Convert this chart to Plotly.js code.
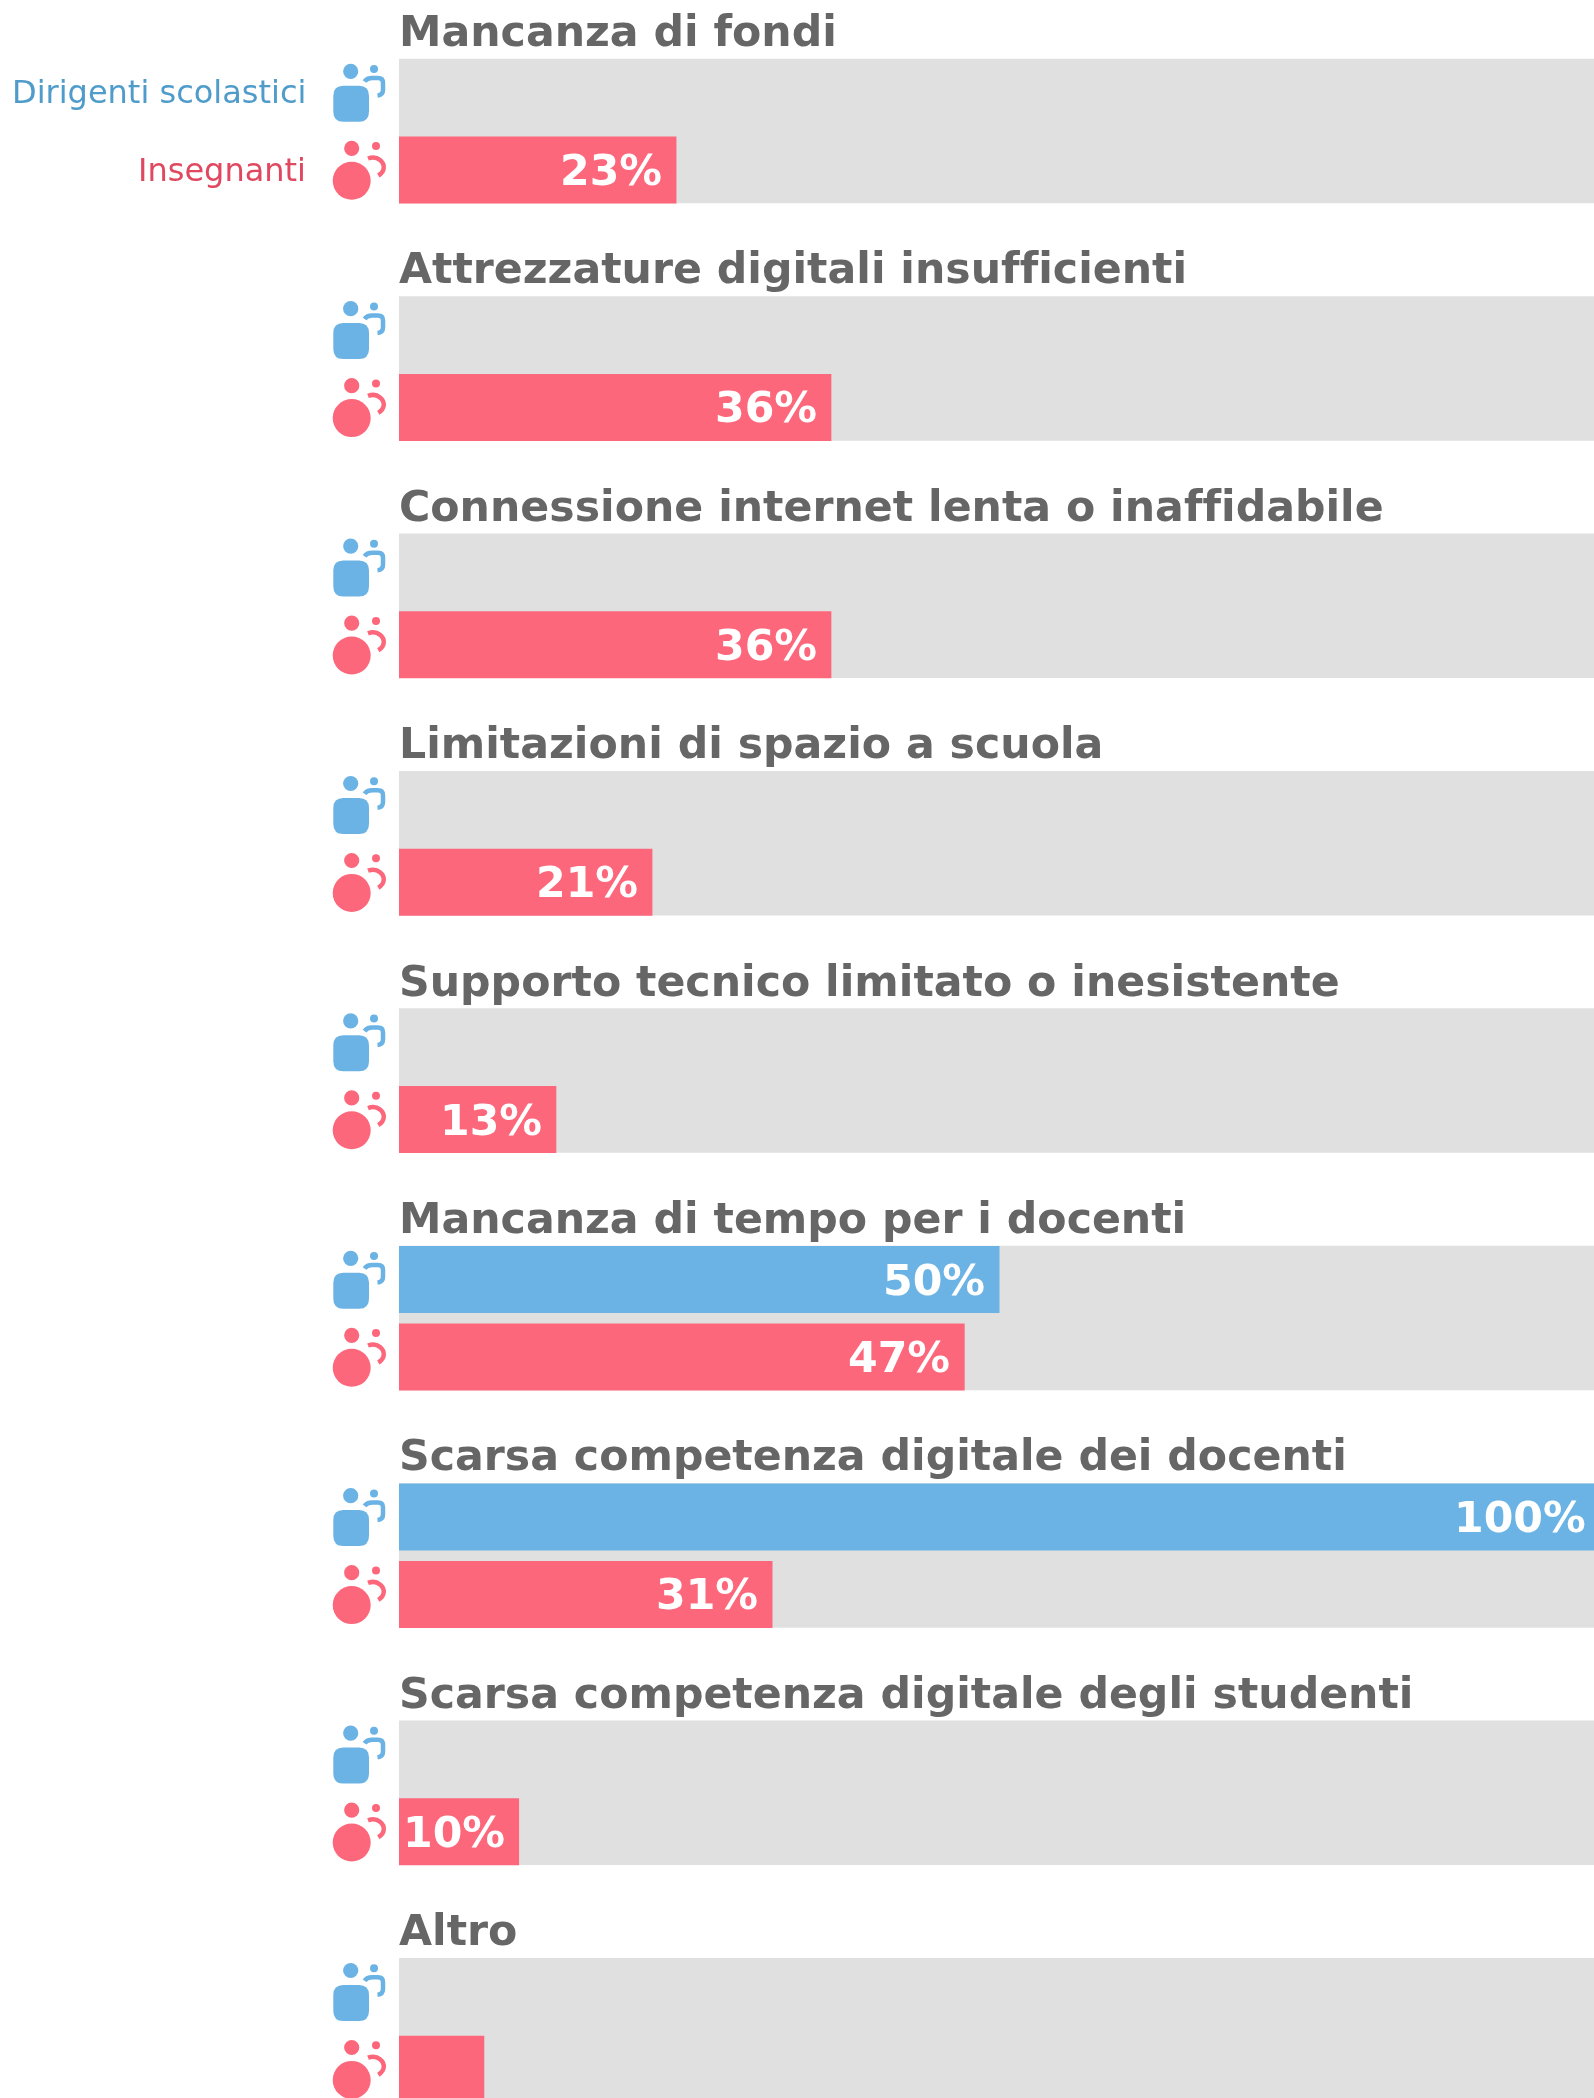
<!DOCTYPE html>
<html><head><meta charset="utf-8">
<script src="https://cdn.plot.ly/plotly-3.0.1.min.js"></script>
<style>html,body{margin:0;padding:0;background:#fff;overflow:hidden}#c{width:1600px;height:2098px}#w{width:1594px;height:2098px;overflow:hidden}text{font-variant-ligatures:none;font-feature-settings:"liga" 0}.main-svg{will-change:transform}</style>
</head><body><div id="w"><div id="c"></div></div>
<script>
const categories = ["Mancanza di fondi","Attrezzature digitali insufficienti","Connessione internet lenta o inaffidabile","Limitazioni di spazio a scuola","Supporto tecnico limitato o inesistente","Mancanza di tempo per i docenti","Scarsa competenza digitale dei docenti","Scarsa competenza digitale degli studenti","Altro"];
const dirigenti = [0,0,0,0,0,50,100,0,0];
const insegnanti = [23.1,36,36,21.1,13.1,47.1,31.1,10,7.1];
const insegnantiLabels = ["23%","36%","36%","21%","13%","47%","31%","10%",""];
const dirigentiLabels = ["","","","","","50%","100%","",""];
const seriesNames = ["Dirigenti scolastici","Insegnanti"];

const W=1600,H=2098,L=399,PERIOD=237.4,TOP=59;
const BLUE="#6bb3e4",RED="#fd677b",GREY="#e0e0e0",TITLE="#666666";
const u=p=>p/PERIOD;                 // pixels -> group units on the y axis
const py=p=>(p-TOP)/PERIOD;          // page pixel -> y value
const idx=categories.map((_,i)=>i);
const blueC=idx.map(i=>i+u(33.5)), redC=idx.map(i=>i+u(111)), greyC=idx.map(i=>i+u(72));
const traces=[
 {type:'bar',orientation:'h',y:greyC,x:idx.map(()=>100),width:u(144.5),marker:{color:GREY},hoverinfo:'skip'},
 {type:'bar',orientation:'h',y:blueC,x:dirigenti,width:u(67),marker:{color:BLUE},name:seriesNames[0]},
 {type:'bar',orientation:'h',y:redC,x:insegnanti,width:u(67),marker:{color:RED},name:seriesNames[1]}
];
const ann=[],shapes=[];
const bold="'DejaVu Sans', sans-serif";
categories.forEach((c,i)=>{
  ann.push({xref:'x',yref:'y',x:0,y:i+u(-28),text:"<b>"+c+"</b>",showarrow:false,xanchor:'left',yanchor:'middle',xshift:-1,borderpad:0,font:{family:bold,size:42.67,color:TITLE}});
  [[dirigentiLabels,dirigenti,blueC],[insegnantiLabels,insegnanti,redC]].forEach(([lab,v,yc])=>{
    if(lab[i]) ann.push({xref:'x',yref:'y',x:v[i],y:yc[i],text:"<b>"+lab[i]+"</b>",showarrow:false,xanchor:'right',yanchor:'middle',xshift:-13.5,borderpad:0,font:{family:bold,size:42.67,color:'#ffffff'}});
  });
  const ax=350, anchorX=(ax-L)/(W-L), anchorY=i;
  const base={xref:'paper',yref:'y',xsizemode:'pixel',ysizemode:'pixel',xanchor:anchorX,yanchor:anchorY,layer:'above'};
  const Y=p=>-(p-TOP);
  const X=p=>p-ax;
  const circ=(cx,cy,r,col)=>shapes.push({...base,type:'circle',x0:X(cx-r),x1:X(cx+r),y0:Y(cy-r),y1:Y(cy+r),fillcolor:col,line:{width:0}});
  const path=(d,st)=>shapes.push({...base,type:'path',path:d,...st});
  const P=(x,y)=>X(x)+","+Y(y);
  circ(350.7,71.3,7.6,BLUE); circ(374,69,4,BLUE);
  path(`M${P(343.3,85.7)} L${P(359,85.7)} Q${P(369,85.7)} ${P(369,95.7)} L${P(369,111.7)} Q${P(369,121.7)} ${P(359,121.7)} L${P(343.3,121.7)} Q${P(333.3,121.7)} ${P(333.3,111.7)} L${P(333.3,95.7)} Q${P(333.3,85.7)} ${P(343.3,85.7)} Z`,{fillcolor:BLUE,line:{width:0}});
  path(`M${P(364.5,81.5)} Q${P(367,78)} ${P(372,78)} L${P(378,78)} Q${P(383,78)} ${P(383,83)} L${P(383,90)} Q${P(383,95)} ${P(377.5,95.5)}`,{fillcolor:'rgba(0,0,0,0)',line:{color:BLUE,width:4.5}});
  circ(351.7,148.3,7.6,RED); circ(376,146.1,4,RED);
  circ(351.7,180.7,19,RED);
  path(`M${P(368,158.5)} C${P(372,157)} ${P(377,157.5)} ${P(380,160)} C${P(385.5,164.5)} ${P(385,171.5)} ${P(378.3,175.5)}`,{fillcolor:'rgba(0,0,0,0)',line:{color:RED,width:4.5}});
});
ann.push({xref:'paper',yref:'y',x:(306.5-L)/(W-L),y:py(92),text:seriesNames[0],showarrow:false,xanchor:'right',yanchor:'middle',borderpad:0,font:{family:bold,size:32,color:'#4f9ccb'}});
ann.push({xref:'paper',yref:'y',x:(306.5-L)/(W-L),y:py(169.5),text:seriesNames[1],showarrow:false,xanchor:'right',yanchor:'middle',borderpad:0,font:{family:bold,size:32,color:'#e0485f'}});
const layout={width:W,height:H,margin:{l:L,r:0,t:0,b:0,pad:0},paper_bgcolor:'#fff',plot_bgcolor:'#fff',barmode:'overlay',showlegend:false,
 xaxis:{range:[0,100],visible:false,fixedrange:true},
 yaxis:{range:[py(H),py(0)],visible:false,fixedrange:true},
 annotations:ann,shapes:shapes};
Plotly.newPlot('c',traces,layout,{displayModeBar:false,staticPlot:true});
</script></body></html>
